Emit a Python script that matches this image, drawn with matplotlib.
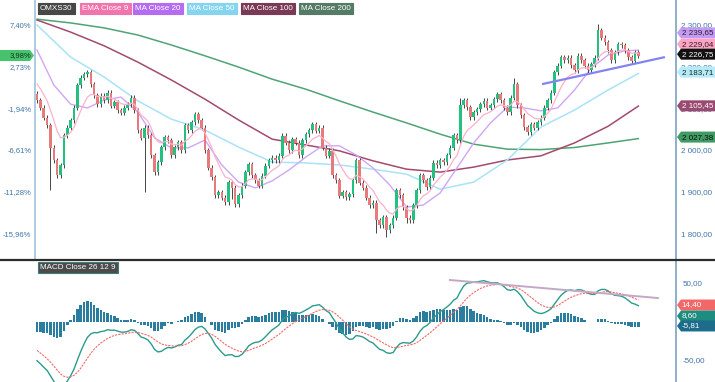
import numpy as np
import matplotlib.pyplot as plt
from matplotlib.patches import Polygon
from matplotlib.lines import Line2D
from matplotlib.transforms import IdentityTransform

plt.rcParams['font.family'] = ['Liberation Sans', 'DejaVu Sans']

W, H = 715, 382  # output size in pixels

# OMXS30 daily closes
close = [2120, 2101, 2077, 2060, 2005, 1976, 1940, 1964, 2036, 2053, 2072, 2101, 2156, 2173, 2182, 2187,
         2158, 2132, 2110, 2130, 2120, 2137, 2106, 2115, 2096, 2089, 2101, 2110, 2125, 2096, 2048, 2029,
         2053, 2036, 1988, 1947,
         1971, 2007, 2031, 2024, 1988, 2007, 2019, 2000, 2060, 2048, 2067, 2086, 2072, 2053, 2000, 1957,
         1935, 1892, 1899, 1885, 1875, 1923, 1909, 1870, 1892, 1914, 1947, 1966, 1940, 1928, 1914, 1938,
         1962, 1976, 1981,
         1976, 1986, 2034, 2017, 2000, 2026, 2017, 1988, 2024, 2038, 2048, 2062, 2046, 2053, 2005, 1986,
         1998, 1940, 1928, 1890, 1899, 1887, 1894, 1928, 1976, 1921, 1909, 1885, 1868, 1873, 1832, 1820,
         1839, 1808, 1820, 1837,
         1904, 1892, 1863, 1837, 1832, 1868, 1904, 1940, 1928, 1911, 1933, 1969, 1964, 1976, 1971, 1988,
         2005, 2036, 2024, 2108, 2120, 2103, 2079, 2091, 2098, 2110, 2118, 2101, 2108, 2122, 2134, 2120,
         2101, 2091, 2125, 2158,
         2108, 2084, 2055, 2043, 2062, 2053, 2067, 2077, 2101, 2120, 2137, 2187, 2202, 2223, 2216, 2221,
         2204, 2192, 2226, 2216, 2202, 2192, 2206, 2221, 2288, 2269, 2259, 2240, 2216, 2235, 2254, 2252,
         2240, 2223, 2214, 2235, 2226.75]
first_open = 2135

# a few long wicks seen on the chart
long_lows = {4: 1904, 32: 1899, 58: 1882, 101: 1802, 104: 1792, 110: 1826}
long_highs = {126: 2126, 142: 2172, 167: 2302}

# moving averages (every 10th / 5th bar)
ma_idx = [0, 10, 20, 30, 40, 50, 60, 70, 80, 90, 100, 110, 120, 130, 140, 150, 160, 170, 179]
ma200 = [2314, 2305, 2293, 2276, 2252, 2226, 2199, 2170, 2146, 2118, 2091, 2065, 2038, 2014, 2002,
         2001, 2006, 2017, 2027.38]
ma100 = [2312, 2283, 2250, 2211, 2168, 2122, 2072, 2026, 2012, 1998, 1974, 1954, 1947, 1959, 1976,
         1986, 2017, 2057, 2105.45]
ma50 = [2300, 2223, 2175, 2118, 2074, 2048, 2007, 1971, 1969, 1964, 1954, 1942, 1906, 1923, 1976,
        2055, 2096, 2144, 2183.71]
ma20_idx = [0, 5, 10, 15, 20, 25, 30, 35, 40, 45, 50, 55, 60, 65, 70, 75, 80, 85, 90, 95, 100, 105,
            110, 115, 120, 125, 130, 135, 140, 145, 150, 155, 160, 165, 170, 175, 179]
ma20 = [2240, 2156, 2110, 2101, 2120, 2127, 2091, 2029, 2005, 2005, 2024, 1964, 1923, 1909, 1926, 1952,
        1983, 2010, 2010, 1988, 1957, 1916, 1863, 1868, 1897, 1957, 2017, 2065, 2103, 2101, 2094, 2101,
        2144, 2197, 2228, 2238, 2239.65]

# starting states of the averages (history before the first bar)
ema9_seed = 2168
ema12_seed, ema26_seed, signal_seed = 2213, 2260, -34

# trend lines drawn on the chart
price_trend_x = [150.3, 186.9]
price_trend_y = [2158, 2223]
macd_trend_x = [122.9, 184.8]
macd_trend_y = [53.9, 30.5]

price_ticks = [2300, 2200, 2100, 2000, 1900, 1800]
price_labels = ['2 300,00', '2 200,00', '2 100,00', '2 000,00', '1 900,00', '1 800,00']
pct_labels = ['7,40%', '2,73%', '-1,94%', '-6,61%', '-11,28%', '-15,96%']
macd_ticks = [50, -50]
macd_labels = ['50,00', '-50,00']

legend_names = ['OMXS30', 'EMA Close 9', 'MA Close 20', 'MA Close 50', 'MA Close 100', 'MA Close 200']
legend_colors = ['#474747', '#f274ad', '#b56cf0', '#86d5f0', '#7a3a55', '#557b66']

flag_texts = ['2 239,65', '2 229,04', '2 226,75', '2 183,71', '2 105,45', '2 027,38']
flag_pos = [2281, 2254, 2230, 2187, 2106, 2031]
flag_bg = ['#c59af5', '#ffa3c4', '#111111', '#b3ebf8', '#9a4a70', '#3f9a64']
flag_fg = ['#222222', '#222222', '#ffffff', '#222222', '#ffffff', '#111111']

macd_flag_texts = ['14,40', '8,60', '-5,81']
macd_flag_pos = [21.4, 7.1, -5.8]
macd_flag_bg = ['#f26868', '#1e8c7e', '#1d6c8c']


def ema(values, span, seed):
    a = 2.0 / (span + 1)
    out = []
    prev = seed
    for v in values:
        prev = a * v + (1 - a) * prev
        out.append(prev)
    return np.array(out)


close = np.array(close, dtype=float)
x = np.arange(len(close))
opens = np.r_[first_open, close[:-1]]
body_lo = np.minimum(opens, close)
body_hi = np.maximum(opens, close)
lows = body_lo - 6
highs = body_hi + 6
for k, v in long_lows.items():
    lows[k] = v
for k, v in long_highs.items():
    highs[k] = v

ema9 = ema(close, 9, ema9_seed)
macd = ema(close, 12, ema12_seed) - ema(close, 26, ema26_seed)
signal = ema(macd, 9, signal_seed)
hist = macd - signal

fig = plt.figure(figsize=(W / 100, H / 100), dpi=100)
ax = fig.add_axes([35 / W, 1 - 259 / H, (676 - 35) / W, 259 / H])
axm = fig.add_axes([35 / W, 0, (676 - 35) / W, 122 / H], sharex=ax)

tick_col = '#3f74a8'
fs = 5.8     # right side / boxes
fs_l = 5.5   # left percent labels

# candles
col = np.where(close > opens + 1.5, '#23c07f', np.where(close < opens - 1.5, '#e87a7c', '#8c8c8c'))
ax.vlines(x, lows, highs, color='#474747', lw=0.7, zorder=2)
ax.bar(x, np.maximum(body_hi - body_lo, 2.5), bottom=body_lo, width=0.75, color=col, zorder=3)

# averages
ax.plot(ma_idx, ma200, color='#4ea474', lw=1.1, zorder=1)
ax.plot(ma_idx, ma100, color='#a34a6e', lw=1.1, zorder=1)
ax.plot(ma_idx, ma50, color='#a9e3f5', lw=1.1, zorder=1)
ax.plot(ma20_idx, ma20, color='#cfa6f8', lw=1.0, zorder=1)
ax.plot(x, ema9, color='#ffb0cc', lw=0.9, zorder=4)
ax.plot(price_trend_x, price_trend_y, color='#8383f2', lw=1.6, zorder=5, solid_capstyle='butt')

ax.set_xlim(-0.6, 190.2)
ax.set_ylim(1738.4, 2360)
ax.set_yticks(price_ticks)
ax.set_yticklabels(pct_labels)
ax.tick_params(axis='y', length=0, pad=2.5, labelsize=fs_l, labelcolor=tick_col)
ax.tick_params(axis='x', bottom=False, labelbottom=False)
for s in ['top', 'bottom', 'right']:
    ax.spines[s].set_visible(False)
ax.spines['left'].set_color('#a8c7de')
ax.spines['left'].set_linewidth(1.3)

sec = ax.secondary_yaxis('right', functions=(lambda v: v, lambda v: v))
sec.set_yticks(price_ticks, labels=price_labels)
sec.tick_params(length=0, pad=3.5, labelsize=fs, labelcolor=tick_col)
sec.spines['right'].set_color('#86a9c4')
sec.spines['right'].set_linewidth(1.3)

# MACD panel
axm.bar(x, hist, width=0.75, color='#2a7d9e', zorder=2)
axm.plot(x, macd, color='#2a9c8c', lw=1.0, zorder=3)
axm.plot(x, signal, color='#f26a6a', lw=0.8, ls=(0, (2, 1)), zorder=3)
axm.plot(macd_trend_x, macd_trend_y, color='#c2a9c6', lw=1.4, zorder=4)
axm.set_ylim(-78.6, 79.9)
axm.set_yticks(macd_ticks)
axm.yaxis.tick_right()
axm.set_yticklabels(macd_labels)
axm.tick_params(axis='y', length=0, pad=5, labelsize=fs, labelcolor=tick_col)
axm.tick_params(axis='x', bottom=False, labelbottom=False)
for s in ['top', 'bottom', 'left']:
    axm.spines[s].set_visible(False)
axm.spines['right'].set_color('#86a9c4')
axm.spines['right'].set_linewidth(1.3)

# separator between panels
fig.add_artist(Line2D([0, 1], [1 - 259.5 / H, 1 - 259.5 / H], transform=fig.transFigure,
                      color='#2d2d2d', lw=1.6))

fig.canvas.draw()
ident = IdentityTransform()


def right_flag(axis, value, text, bg, fg):
    yc = axis.transData.transform((0, value))[1]
    pts = [(677, yc), (681, yc + 5.5), (715, yc + 5.5), (715, yc - 5.5), (681, yc - 5.5)]
    fig.add_artist(Polygon(pts, closed=True, transform=ident, facecolor=bg, edgecolor='none', zorder=20))
    fig.text(681.5 / W, yc / H, text, ha='left', va='center', fontsize=fs, color=fg, zorder=21)


for t, p, bg, fg in zip(flag_texts, flag_pos, flag_bg, flag_fg):
    right_flag(ax, p, t, bg, fg)
for t, p, bg in zip(macd_flag_texts, macd_flag_pos, macd_flag_bg):
    right_flag(axm, p, t, bg, '#ffffff')

# last close in percent, left side
yc = ax.transData.transform((0, close[-1]))[1]
pts = [(0, yc + 5.5), (30, yc + 5.5), (34, yc), (30, yc - 5.5), (0, yc - 5.5)]
fig.add_artist(Polygon(pts, closed=True, transform=ident, facecolor='#46c36c', edgecolor='none', zorder=20))
fig.text(31 / W, yc / H, '3,98%', ha='right', va='center', fontsize=fs_l, color='#14331f', zorder=21)

# series name boxes
lx = [38, 80, 133, 187, 241, 299]
for name, c, px in zip(legend_names, legend_colors, lx):
    fig.text((px + 2) / W, 1 - 8.5 / H, name, ha='left', va='center', fontsize=fs, color='white',
             bbox=dict(boxstyle='square,pad=0.3', facecolor=c, edgecolor=c, lw=0.8))
fig.text(40 / W, 1 - 267.5 / H, 'MACD Close 26 12 9', ha='left', va='center', fontsize=fs, color='white',
         bbox=dict(boxstyle='square,pad=0.3', facecolor='#4b4b4b', edgecolor='#3a7f7a', lw=0.8))

fig.savefig('out.png', dpi=100)
